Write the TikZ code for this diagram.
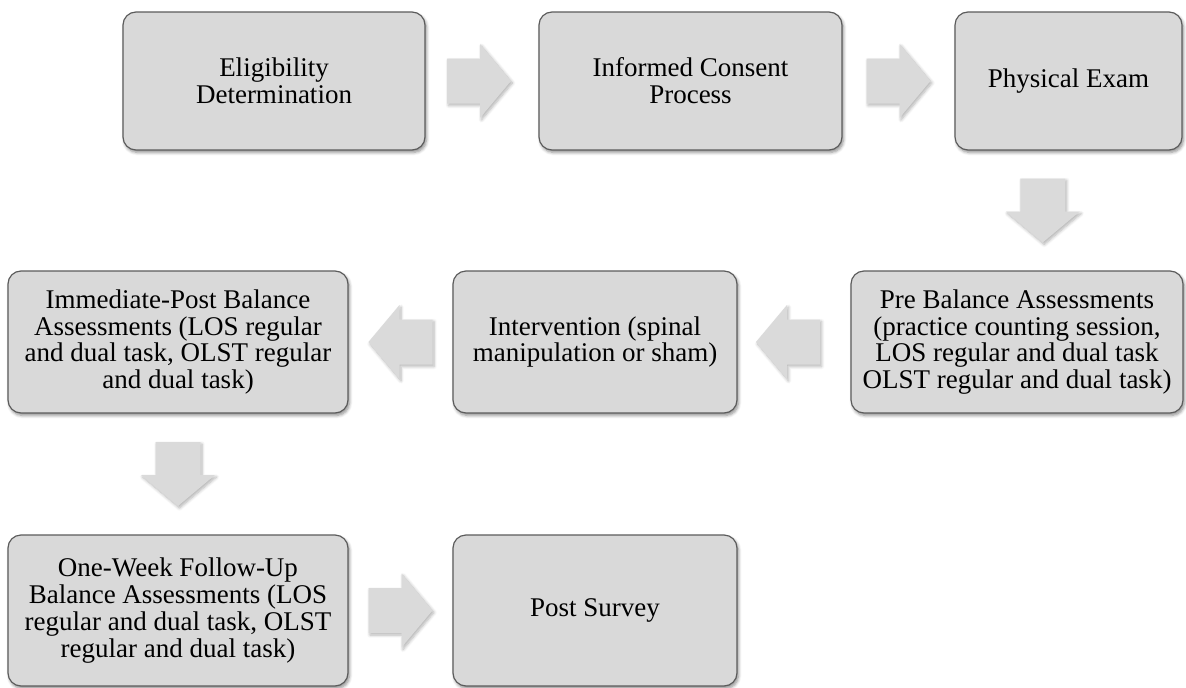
\documentclass[tikz,border=0pt]{standalone}
\usepackage{fontspec}
\setmainfont{Liberation Serif}
\usetikzlibrary{calc,shadows.blur}
\definecolor{boxfill}{RGB}{217,217,217}
\definecolor{boxline}{RGB}{92,92,92}
\definecolor{arrowfill}{RGB}{218,218,218}
\tikzset{
  stepbox/.style={draw=boxline, line width=1.2pt, fill=boxfill, rounded corners=13pt,
    align=center, inner sep=4pt, font=\fontsize{27}{26.8}\selectfont, text=black,
    blur shadow={shadow blur steps=6, shadow xshift=1.5pt, shadow yshift=-2.5pt, shadow opacity=45, shadow blur radius=3pt}},
  blockarrow/.pic={
    \fill[arrowfill, blur shadow={shadow blur steps=6, shadow xshift=1.5pt, shadow yshift=-2pt, shadow opacity=30, shadow blur radius=3pt}]
      (-32,-22.5) -- (1,-22.5) -- (1,-37) -- (32,0) -- (1,37) -- (1,22.5) -- (-32,22.5) -- cycle;
  }
}
\begin{document}
\begin{tikzpicture}[x=1pt,y=-1pt]
\useasboundingbox (0,0) rectangle (1186,688);
% row 1
\node[stepbox, minimum width=302pt, minimum height=138pt] (elig) at (274,81) {Eligibility\\Determination};
\node[stepbox, minimum width=303pt, minimum height=138pt] (consent) at (690.5,81) {Informed Consent\\Process};
\node[stepbox, minimum width=227pt, minimum height=138pt] (exam) at (1068.5,81) {Physical Exam};
% row 2
\node[stepbox, minimum width=332pt, minimum height=142pt] (pre) at (1017,342) {Pre Balance Assessments\\(practice counting session,\\LOS regular and dual task\\OLST regular and dual task)};
\node[stepbox, minimum width=284pt, minimum height=142pt] (interv) at (595,342) {Intervention (spinal\\manipulation or sham)};
\node[stepbox, minimum width=340pt, minimum height=142pt] (immed) at (178,342) {Immediate-Post Balance\\Assessments (LOS regular\\and dual task, OLST regular\\and dual task)};
% row 3
\node[stepbox, minimum width=340pt, minimum height=151pt] (onew) at (178,610.5) {One-Week Follow-Up\\Balance Assessments (LOS\\regular and dual task, OLST\\regular and dual task)};
\node[stepbox, minimum width=284pt, minimum height=151pt] (post) at (595,610.5) {Post Survey};
% block arrows
\pic at ($(elig.east)!0.5!(consent.west)+(-3,0)$) {blockarrow};
\pic at ($(consent.east)!0.5!(exam.west)$) {blockarrow};
\pic[rotate=-90] at ($(exam.south)!0.5!(pre.north)$) {blockarrow};
\pic[rotate=180] at ($(pre.west)!0.5!(interv.east)+(-6,0)$) {blockarrow};
\pic[rotate=180] at ($(interv.west)!0.5!(immed.east)$) {blockarrow};
\pic[rotate=-90] at ($(immed.south)!0.5!(onew.north)$) {blockarrow};
\pic at ($(onew.east)!0.5!(post.west)$) {blockarrow};
\end{tikzpicture}
\end{document}
